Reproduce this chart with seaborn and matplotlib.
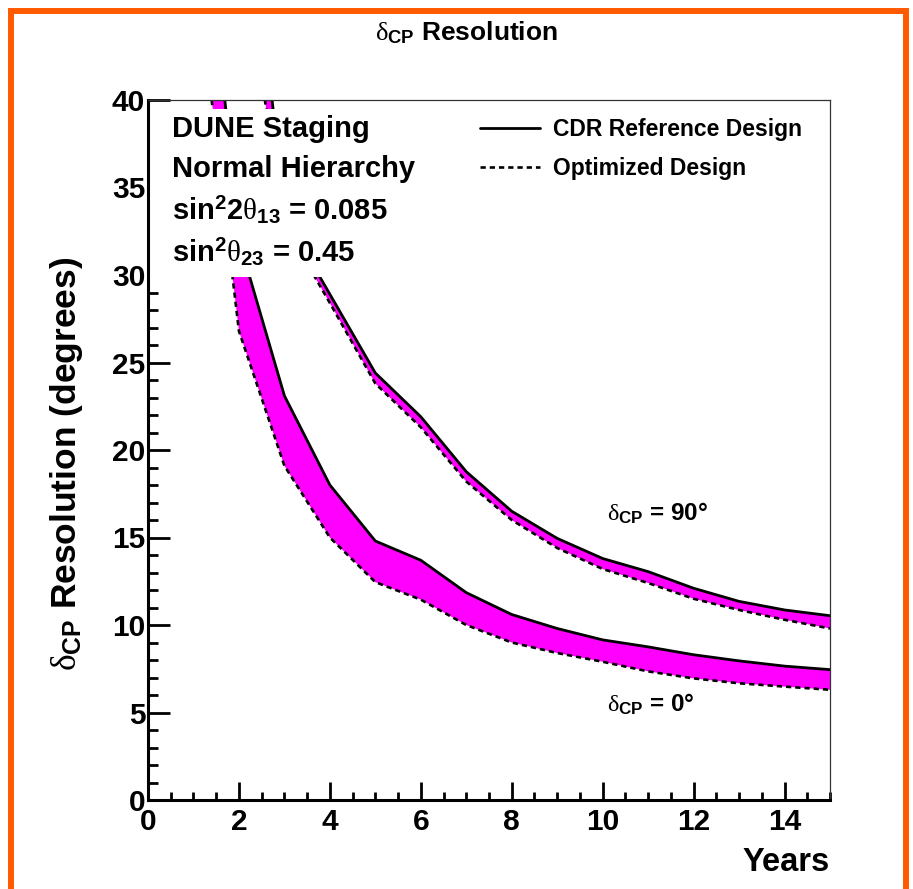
import numpy as np
import pandas as pd
import matplotlib
matplotlib.use('Agg')
import matplotlib.pyplot as plt
import seaborn as sns
from matplotlib.patches import Rectangle
from matplotlib.ticker import MultipleLocator

# ---------------- data ----------------
years = [1, 2, 3, 4, 5, 6, 7, 8, 9, 10, 11, 12, 13, 14, 15]
cdr_dcp0 = [57.8, 32.0, 23.1, 18.0, 14.8, 13.7, 11.85, 10.6, 9.8, 9.15, 8.75, 8.3, 7.95, 7.65, 7.45]
opt_dcp0 = [48.8, 26.8, 19.1, 15.0, 12.45, 11.45, 10.0, 9.0, 8.4, 7.9, 7.35, 6.95, 6.67, 6.48, 6.3]
cdr_dcp90 = [95.0, 57.8, 33.4, 28.9, 24.4, 21.9, 18.76, 16.5, 14.95, 13.8, 13.05, 12.1, 11.35, 10.86, 10.53]
opt_dcp90 = [85.0, 49.4, 32.9, 28.4, 23.8, 21.3, 18.2, 16.0, 14.4, 13.2, 12.4, 11.5, 10.86, 10.3, 9.8]

legend_labels = ['CDR Reference Design', 'Optimized Design']
info_lines = ['DUNE Staging', 'Normal Hierarchy',
              r'sin$^{\mathbf{2}}$2$\mathrm{\theta}_{\mathbf{13}}$ = 0.085',
              r'sin$^{\mathbf{2}}$$\mathrm{\theta}_{\mathbf{23}}$ = 0.45']
curve_labels = [r'$\mathrm{\delta}_{\mathbf{CP}}$ = 90°', r'$\mathrm{\delta}_{\mathbf{CP}}$ = 0°']
title_text = r'$\mathrm{\delta}_{\mathbf{CP}}$ Resolution'
xlabel_text = 'Years'
ylabel_text = r'$\mathrm{\delta}_{\mathbf{CP}}$ Resolution (degrees)'

# ---------------- style ----------------
sns.set_theme(style='white')
plt.rcParams['font.family'] = ['Liberation Sans', 'DejaVu Sans']
plt.rcParams['font.weight'] = 'bold'
plt.rcParams['mathtext.fontset'] = 'custom'
plt.rcParams['mathtext.rm'] = 'Liberation Serif:normal'
plt.rcParams['mathtext.bf'] = 'Liberation Sans:bold'
plt.rcParams['mathtext.it'] = 'Liberation Serif:italic'
plt.rcParams['axes.unicode_minus'] = False
for key in ['text.color', 'axes.labelcolor', 'xtick.color', 'ytick.color', 'axes.edgecolor']:
    plt.rcParams[key] = 'black'

W, H = 913, 889
fig = plt.figure(figsize=(W / 100, H / 100), dpi=100)
fig.patch.set_facecolor('white')
ax = fig.add_axes([148 / W, 1 - 800 / H, 682 / W, 700 / H])
ax.set_facecolor('white')

magenta = '#FF00FF'
dash = (0, (2.0, 1.5))

# fills
ax.fill_between(years, opt_dcp0, cdr_dcp0, color=magenta, lw=0, zorder=1)
ax.fill_between(years, opt_dcp90, cdr_dcp90, color=magenta, lw=0, zorder=1)

# lines
sns.lineplot(x=years, y=cdr_dcp0, ax=ax, color='black', lw=2.0, zorder=2)
sns.lineplot(x=years, y=opt_dcp0, ax=ax, color='black', lw=1.9, linestyle=dash, zorder=2)
sns.lineplot(x=years, y=cdr_dcp90, ax=ax, color='black', lw=2.0, zorder=2)
sns.lineplot(x=years, y=opt_dcp90, ax=ax, color='black', lw=1.9, linestyle=dash, zorder=2)

ax.set_xlim(0, 15)
ax.set_ylim(0, 40)

# white info box covering curves
ax.add_patch(Rectangle((0.03, 29.9), 5.95, 9.6, facecolor='white', edgecolor='none', zorder=2.3))
baselines = [37.9, 35.58, 33.14, 30.76]
for txt, yb in zip(info_lines, baselines):
    ax.text(0.53, yb, txt, fontsize=21, fontweight='bold', va='baseline', ha='left', zorder=3)

# curve labels
ax.text(10.09, 16.4, curve_labels[0], fontsize=17.5, va='center', ha='left', zorder=3)
ax.text(10.09, 5.45, curve_labels[1], fontsize=17.5, va='center', ha='left', zorder=3)

# legend
lines = ax.get_lines()
leg = ax.legend(handles=[lines[0], lines[1]], labels=legend_labels, loc='upper left',
                bbox_to_anchor=(480 / W, 1 - 118 / H), bbox_transform=fig.transFigure,
                frameon=False, fontsize=16.5, handlelength=2.6, handletextpad=0.6,
                labelspacing=0.7, borderpad=0, borderaxespad=0)

# ticks
ax.xaxis.set_major_locator(MultipleLocator(2))
ax.xaxis.set_minor_locator(MultipleLocator(0.5))
ax.yaxis.set_major_locator(MultipleLocator(5))
ax.yaxis.set_minor_locator(MultipleLocator(1))
ax.tick_params(axis='both', which='both', direction='in', bottom=True, left=True,
               top=False, right=False, color='black', width=2.0)
ax.tick_params(axis='x', which='major', length=13, labelsize=21.5, pad=6)
ax.tick_params(axis='x', which='minor', length=6)
ax.tick_params(axis='y', which='major', length=16, labelsize=21.5, pad=2)
ax.tick_params(axis='y', which='minor', length=7)
for lbl in ax.get_xticklabels() + ax.get_yticklabels():
    lbl.set_fontweight('bold')

# spines
for s in ['left', 'bottom']:
    ax.spines[s].set_linewidth(2.2)
    ax.spines[s].set_color('black')
for s in ['top', 'right']:
    ax.spines[s].set_linewidth(0.9)
    ax.spines[s].set_color('#333333')

# axis labels
ax.set_xlabel(xlabel_text, fontsize=23.5, fontweight='bold', ha='right')
ax.xaxis.set_label_coords(1.0, -0.067)
ax.set_ylabel(ylabel_text, fontsize=25.5, fontweight='bold')
ax.yaxis.set_label_coords(-0.093, 0.48)

# title
fig.text(466 / W, 1 - 40 / H, title_text, ha='center', va='baseline', fontsize=19, fontweight='bold')

# orange frame
fig.patches.append(Rectangle((10.5 / W, -0.05), (906 - 10.5) / W, 1 - 11 / H + 0.05,
                             transform=fig.transFigure, fill=False, edgecolor='#FF5A00', lw=4.3))

fig.savefig('out.png', dpi=100, facecolor='white')
